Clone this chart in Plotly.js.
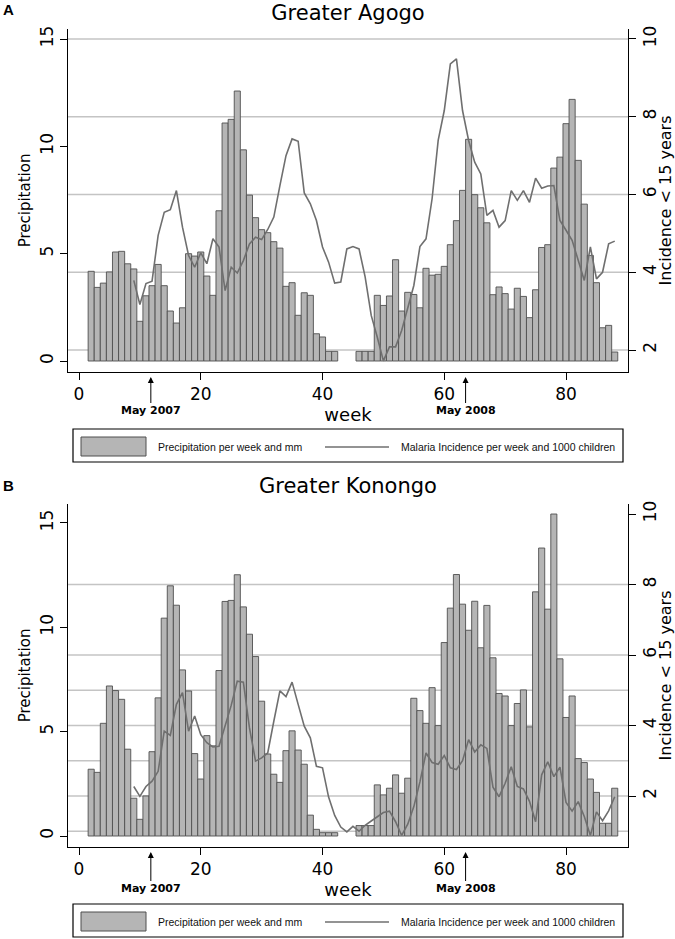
<!DOCTYPE html>
<html>
<head>
<meta charset="utf-8">
<script src="https://cdn.plot.ly/plotly-3.0.1.min.js"></script>
<style>html,body{margin:0;padding:0;background:#fff;}#chart{width:675px;height:939px;}</style>
</head>
<body>
<div id="chart"></div>
<script>
// ---- data ----
const rainWeeks = [2,3,4,5,6,7,8,9,10,11,12,13,14,15,16,17,18,19,20,21,22,23,24,25,26,27,28,29,30,31,32,33,34,35,36,37,38,39,40,41,42,
                   46,47,48,49,50,51,52,53,54,55,56,57,58,59,60,61,62,63,64,65,66,67,68,69,70,71,72,73,74,75,76,77,78,79,80,81,82,83,84,85,86,87,88];
const incWeeks = [9,10,11,12,13,14,15,16,17,18,19,20,21,22,23,24,25,26,27,28,29,30,31,32,33,34,35,36,37,38,39,40,41,42,43,44,45,46,47,48,
                  49,50,51,52,53,54,55,56,57,58,59,60,61,62,63,64,65,66,67,68,69,70,71,72,73,74,75,76,77,78,79,80,81,82,83,84,85,86,87,88];

const agogoRain = [4.18,3.43,3.63,4.15,5.08,5.11,4.53,4.29,1.85,3.04,3.51,4.50,3.51,2.33,1.77,2.48,5.0,4.89,5.08,3.96,3.06,7.0,11.09,11.26,12.58,9.84,7.73,6.68,6.12,5.98,5.56,5.26,3.48,3.65,2.13,3.18,3.06,1.27,1.12,0.45,0.45,
                   0.45,0.45,0.45,3.06,2.59,3.03,4.72,2.33,3.2,3.1,2.48,4.32,4.0,4.04,4.41,5.42,6.54,7.95,10.33,7.75,7.14,6.44,3.09,3.45,3.14,2.42,3.39,3.01,2.02,3.32,5.29,5.42,8.99,9.5,11.06,12.19,9.35,7.31,4.92,3.65,1.55,1.66,0.42];
const agogoInc = [3.79,3.17,3.71,3.77,4.95,5.54,5.61,6.1,5.16,4.43,4.13,4.5,4.22,4.86,4.65,3.53,4.13,3.98,4.3,4.73,4.9,4.84,5.1,5.42,6.23,7.0,7.43,7.37,6.04,5.76,5.33,4.65,4.26,3.72,3.75,4.6,4.66,4.6,3.88,2.89,
                  2.33,1.72,2.08,2.08,2.5,3.1,3.66,4.66,4.86,5.89,7.39,8.16,9.36,9.49,8.16,7.39,6.83,6.53,5.46,5.59,5.16,5.33,6.1,5.85,6.1,5.8,6.42,6.16,6.22,6.23,5.33,5.08,4.82,4.31,3.79,4.65,3.83,4.0,4.73,4.8];

const konongoRain = [3.2,3.05,5.4,7.19,6.97,6.55,4.16,1.81,0.8,1.92,4.04,6.62,10.44,11.99,11.06,7.96,6.95,3.95,2.73,4.81,4.32,7.93,11.24,11.29,12.52,10.98,9.67,8.6,6.46,3.93,2.96,2.57,4.09,5.04,4.12,3.44,1.0,0.32,0.16,0.16,0.16,
                     0.5,0.5,0.5,2.45,1.97,2.29,2.93,2.05,2.77,6.6,6.01,5.4,7.11,5.29,9.27,10.92,12.53,11.11,9.86,11.25,9.02,11.05,8.54,6.83,6.71,5.29,6.35,7.0,5.23,11.7,13.8,10.87,15.43,8.49,5.68,6.71,3.71,3.52,2.73,2.09,0.61,0.61,2.29];
const konongoInc = [2.27,1.99,2.27,2.42,2.7,3.84,3.72,4.6,4.93,3.84,4.27,3.74,3.51,3.39,3.41,3.98,4.57,5.26,5.23,3.93,2.99,3.08,3.22,4.12,4.98,4.82,5.23,4.6,3.98,3.65,2.84,2.8,1.97,1.45,1.12,0.98,1.14,1.0,1.17,1.29,
                    1.41,1.53,1.57,1.27,0.88,1.2,1.7,2.4,3.22,2.95,2.9,3.15,2.8,2.75,3.0,3.6,3.25,3.45,3.35,2.25,1.98,2.36,2.83,2.27,2.2,1.85,1.27,2.6,2.97,2.55,2.82,1.82,1.57,1.84,1.42,0.88,1.55,1.3,1.58,1.98];

const xTicks = [0,20,40,60,80];
const leftTicks = [0,5,10,15];
const rightTicks = [2,4,6,8,10];
const gridA = [2,4,6,8,10];
const gridB = [1,2,3,4,5,6,8];
const mayWeeks = [11.8, 63.5];
const mayLabels = ['May 2007','May 2008'];
const panelTitles = ['Greater Agogo','Greater Konongo'];
const legendLabels = ['Precipitation per week and mm','Malaria Incidence per week and 1000 children'];

// ---- geometry (pixels) ----
const W = 675, H = 939;
const px = v => v / W;
const py = v => 1 - v / H;
const XDOM = [px(68), px(628)];
const panels = [
  {top: 29, bottom: 372, yl: [-0.512, 15.47], yr: [1.434, 10.257], grid: gridA, rain: agogoRain, inc: agogoInc},
  {top: 504, bottom: 847, yl: [-0.527, 15.91], yr: [0.553, 10.284], grid: gridB, rain: konongoRain, inc: konongoInc}
];

const BAR_FILL = '#b5b5b5', BAR_LINE = '#4f4f4f', LINE_COL = '#6f6f6f', GRID_COL = '#c4c4c4';
const TICKFONT = {family: 'DejaVu Sans', size: 17, color: '#000'};

const traces = [];
const layout = {
  width: W, height: H,
  margin: {l: 0, r: 0, t: 0, b: 0},
  paper_bgcolor: '#fff', plot_bgcolor: '#fff',
  showlegend: false, bargap: 0,
  title: {text: panelTitles[0], x: px(348), xanchor: 'center', y: py(13), yanchor: 'middle',
          font: {family: 'DejaVu Sans', size: 21, color: '#000'}},
  shapes: [], annotations: []
};

panels.forEach((p, i) => {
  const xa = i === 0 ? 'x' : 'x2';
  const yl = i === 0 ? 'y' : 'y3';
  const yr = i === 0 ? 'y2' : 'y4';
  const xk = i === 0 ? 'xaxis' : 'xaxis2';
  const ylk = i === 0 ? 'yaxis' : 'yaxis3';
  const yrk = i === 0 ? 'yaxis2' : 'yaxis4';
  const ydom = [py(p.bottom), py(p.top)];

  traces.push({type: 'bar', x: rainWeeks, y: p.rain, width: 1, xaxis: xa, yaxis: yl,
    marker: {color: BAR_FILL, line: {color: BAR_LINE, width: 0.9}}, hoverinfo: 'x+y'});
  traces.push({type: 'scatter', mode: 'lines', x: incWeeks, y: p.inc, xaxis: xa, yaxis: yr,
    line: {color: LINE_COL, width: 1.6}, hoverinfo: 'x+y'});

  layout[xk] = {domain: XDOM, anchor: yl, range: [-1.807, 90.18], tickvals: xTicks, ticktext: xTicks.map(String),
    ticks: 'outside', ticklen: 7, tickcolor: '#000', tickwidth: 1, showline: true, linecolor: '#000', linewidth: 1,
    showgrid: false, zeroline: false, tickfont: TICKFONT, fixedrange: true,
    title: {text: 'week', font: {family: 'DejaVu Sans', size: 18, color: '#000'}, standoff: 0}};
  layout[ylk] = {domain: ydom, anchor: xa, range: p.yl, tickvals: leftTicks, ticktext: leftTicks.map(String),
    tickangle: -90, ticks: 'outside', ticklen: 7, tickcolor: '#000', showline: true, linecolor: '#000', linewidth: 1,
    showgrid: false, zeroline: false, tickfont: TICKFONT, fixedrange: true,
    title: {text: 'Precipitation', font: {family: 'DejaVu Sans', size: 15, color: '#000'}, standoff: 2}};
  layout[yrk] = {overlaying: yl, side: 'right', anchor: xa, range: p.yr, tickvals: rightTicks, ticktext: rightTicks.map(String),
    tickangle: -90, ticks: 'outside', ticklen: 7, tickcolor: '#000', showline: true, linecolor: '#000', linewidth: 1,
    showgrid: false, zeroline: false, tickfont: TICKFONT, fixedrange: true,
    title: {text: 'Incidence &lt; 15 years', font: {family: 'DejaVu Sans', size: 16, color: '#000'}, standoff: 3}};

  // gridlines (right-axis values)
  p.grid.forEach(g => layout.shapes.push({type: 'line', xref: 'paper', x0: XDOM[0], x1: XDOM[1], yref: yr, y0: g, y1: g,
    line: {color: GRID_COL, width: 1.3}, layer: 'below'}));

  // May markers
  mayWeeks.forEach((w, k) => layout.annotations.push({xref: xa, x: w, yref: 'paper', y: py(p.bottom + 5),
    text: '<b>' + mayLabels[k] + '</b>', showarrow: true, ax: 0, ay: 33 + i * 3, arrowhead: 2, arrowsize: 1.2,
    arrowwidth: 1, arrowcolor: '#000', standoff: 0, borderpad: 0,
    font: {family: 'DejaVu Sans', size: 11, color: '#000'}}));

  // legend box (drawn manually)
  const off = p.bottom + 57;
  layout.shapes.push({type: 'rect', xref: 'paper', yref: 'paper', x0: px(73), x1: px(623), y0: py(off + 33), y1: py(off),
    line: {color: '#000', width: 1.2}, fillcolor: 'rgba(0,0,0,0)'});
  layout.shapes.push({type: 'rect', xref: 'paper', yref: 'paper', x0: px(81), x1: px(146), y0: py(off + 27), y1: py(off + 8),
    line: {color: BAR_LINE, width: 1}, fillcolor: BAR_FILL});
  layout.shapes.push({type: 'line', xref: 'paper', yref: 'paper', x0: px(325), x1: px(389), y0: py(off + 18), y1: py(off + 18),
    line: {color: LINE_COL, width: 1.5}});
  layout.annotations.push({xref: 'paper', yref: 'paper', x: px(156), y: py(off + 18), xanchor: 'left', yanchor: 'middle',
    text: legendLabels[0], showarrow: false, font: {family: 'Liberation Sans', size: 10.5, color: '#111'}});
  layout.annotations.push({xref: 'paper', yref: 'paper', x: px(399), y: py(off + 18), xanchor: 'left', yanchor: 'middle',
    text: legendLabels[1], showarrow: false, font: {family: 'Liberation Sans', size: 10.5, color: '#111'}});

  // panel letter
  layout.annotations.push({xref: 'paper', yref: 'paper', x: px(1), y: py(p.top - 19), xanchor: 'left', yanchor: 'middle',
    text: '<b>' + (i === 0 ? 'A' : 'B') + '</b>', showarrow: false, font: {family: 'Liberation Sans', size: 15, color: '#000'}});
});

// second panel title
layout.annotations.push({xref: 'paper', yref: 'paper', x: px(348), y: py(486), xanchor: 'center', yanchor: 'middle',
  text: panelTitles[1], showarrow: false, font: {family: 'DejaVu Sans', size: 21, color: '#000'}});

Plotly.newPlot('chart', traces, layout, {displayModeBar: false, staticPlot: true});
</script>
</body>
</html>
